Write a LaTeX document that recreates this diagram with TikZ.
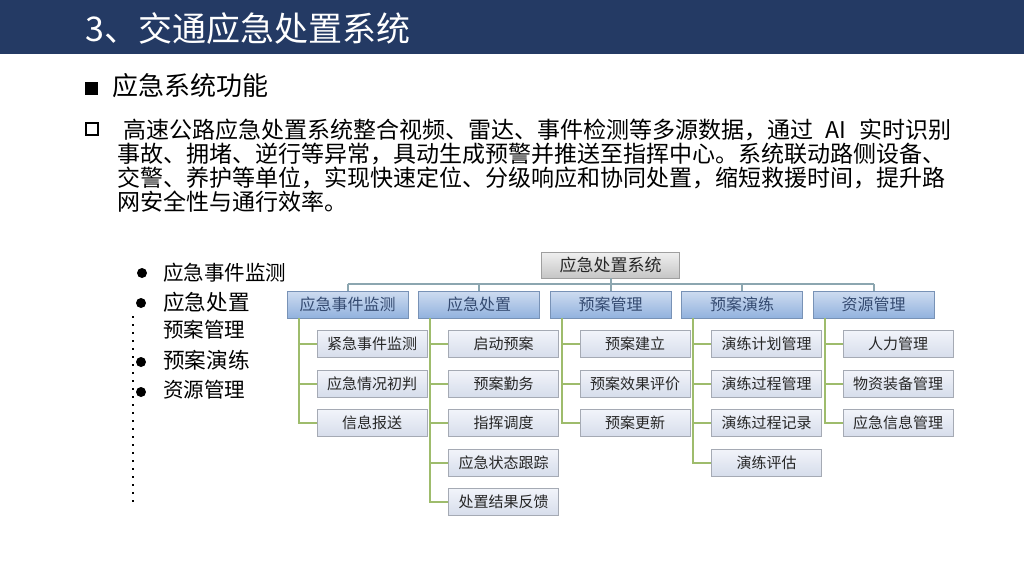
\documentclass[tikz,border=0pt]{standalone}
\usepackage{fontspec}
\setmainfont{Noto Sans CJK SC}
\usepackage{xcolor}
\usepackage{tikz}
\usetikzlibrary{positioning}

\definecolor{hdrblue}{RGB}{36,58,100}
\definecolor{busline}{RGB}{140,166,176}
\definecolor{treeline}{RGB}{158,188,108}
\definecolor{grptxt}{RGB}{52,74,112}
\definecolor{grptop}{RGB}{206,220,240}
\definecolor{grpbot}{RGB}{146,178,222}
\definecolor{grpedge}{RGB}{120,146,182}
\definecolor{itmtop}{RGB}{242,244,250}
\definecolor{itmbot}{RGB}{214,221,235}
\definecolor{itmedge}{RGB}{165,170,180}

\tikzset{
  sysbox/.style={draw=gray!75, top color=gray!12, bottom color=gray!45,
    minimum width=103.5pt, minimum height=19.5pt, inner sep=0pt,
    text=black!85, font=\fontsize{12.75pt}{13pt}\selectfont},
  grpbox/.style={draw=grpedge, top color=grptop, bottom color=grpbot,
    minimum width=90.5pt, minimum height=20.25pt, inner sep=0pt,
    text=grptxt, font=\fontsize{12pt}{12pt}\selectfont},
  itmbox/.style={draw=itmedge, top color=itmtop, bottom color=itmbot,
    minimum width=82.5pt, minimum height=20.25pt, inner sep=0pt,
    text=black!85, font=\fontsize{11.25pt}{12pt}\selectfont},
  bus/.style={draw=busline, line width=1.5pt},
  tree/.style={draw=treeline, line width=1.5pt},
  dot/.style={circle, fill=black, inner sep=0pt, minimum size=7.5pt},
  para/.style={anchor=west, inner sep=0pt, font=\fontsize{17.25pt}{18pt}\selectfont},
  lst/.style={anchor=west, inner sep=0pt, font=\fontsize{15.4pt}{16pt}\selectfont},
}

\begin{document}
\begin{tikzpicture}[x=0.75pt, y=-0.75pt]
    \useasboundingbox (0,0) rectangle (1024,576);

    % Cabecera
    \fill[hdrblue] (0,0) rectangle (1024,54);
    \node[anchor=west, inner sep=0pt, text=white,
      font=\fontsize{25.5pt}{26pt}\selectfont] (title) at (85,29) {3、交通应急处置系统};

    % Subtitulo y texto
    \node[fill=black, minimum size=9.75pt, inner sep=0pt] (sq) at (91.5,88.5) {};
    \node[anchor=west, inner sep=0pt, font=\fontsize{19.5pt}{20pt}\selectfont] (sub) at (112,86) {应急系统功能};
    \node[draw, line width=1.3pt, minimum width=9.5pt, minimum height=8.5pt, inner sep=0pt] (box) at (92,129) {};
    \node[para] (l1) at (123,130) {高速公路应急处置系统整合视频、雷达、事件检测等多源数据，通过\hspace{0.55em}AI\hspace{0.55em}实时识别};
    \node[para] (l2) at (117,154) {事故、拥堵、逆行等异常，具动生成预警并推送至指挥中心。系统联动路侧设备、};
    \node[para] (l3) at (117,178) {交警、养护等单位，实现快速定位、分级响应和协同处置，缩短救援时间，提升路};
    \node[para] (l4) at (117,202) {网安全性与通行效率。};

    % Lista
    \draw[line width=1.5pt, dash pattern=on 1.5pt off 4.5pt] (133,316) -- (133,502);
    \node[dot] (b1) at (142,273) {};
    \node[dot] (b2) at (141,303) {};
    \node[dot] (b4) at (141,362) {};
    \node[dot] (b5) at (141,392) {};
    \node[lst] (t1) at (163,273) {应急事件监测};
    \node[lst, font=\fontsize{16.2pt}{17pt}\selectfont] (t2) at (163,302) {应急处置};
    \node[lst] (t3) at (163,330) {预案管理};
    \node[lst, font=\fontsize{16.2pt}{17pt}\selectfont] (t4) at (163,360) {预案演练};
    \node[lst] (t5) at (163,390) {资源管理};

    % Organigrama
    \node[sysbox] (sys) at (610.5,265) {应急处置系统};
    \coordinate (bus) at (610.5,284);
    \draw[bus] (sys) -- (bus);

    \foreach \i/\cx/\grp/\items in {
        1/347.5/应急事件监测/{紧急事件监测,应急情况初判,信息报送},
        2/479/应急处置/{启动预案,预案勤务,指挥调度,应急状态跟踪,处置结果反馈},
        3/610.5/预案管理/{预案建立,预案效果评价,预案更新},
        4/742/预案演练/{演练计划管理,演练过程管理,演练过程记录,演练评估},
        5/873.5/资源管理/{人力管理,物资装备管理,应急信息管理}} {
        \node[grpbox] (grp\i) at (\cx,304.5) {\grp};  % Nodo de grupo
        \draw[bus] (grp\i.north) -- (grp\i.north |- bus);

        % Hojas del grupo
        \foreach \t [count=\k] in \items {
            \node[itmbox] (itm\i-\k) at (\cx+24.5, 304.5+39.5*\k) {\t};
            \draw[tree] (grp\i.south west) ++(12,0) |- (itm\i-\k.west);
        }
    }

    \draw[bus] (grp1.north |- bus) -- (grp5.north |- bus);

\end{tikzpicture}
\end{document}
